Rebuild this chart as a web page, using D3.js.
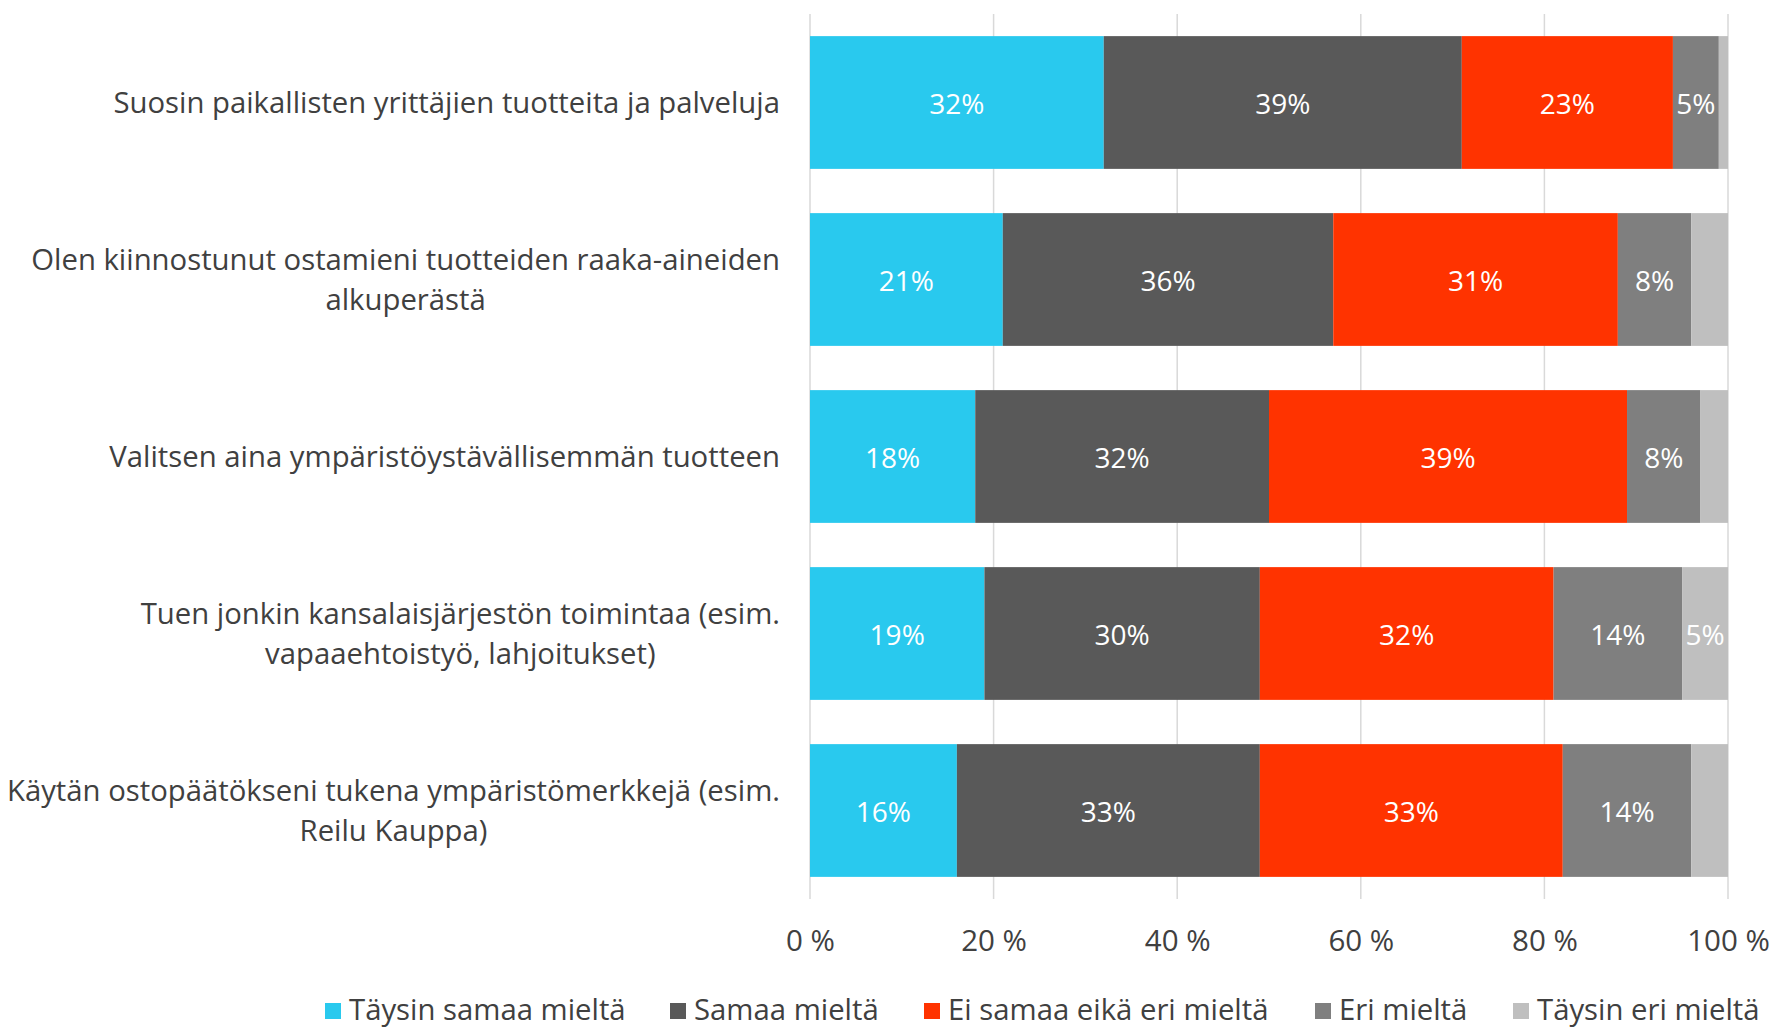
<!DOCTYPE html>
<html><head><meta charset="utf-8">
<script src="https://cdn.jsdelivr.net/npm/d3@7"></script>
<style>html,body{margin:0;padding:0;background:#fff;}svg{display:block;}</style>
</head><body>
<svg id="chart" width="1774" height="1028"></svg>
<script>
const categories = [
  "Suosin paikallisten yrittäjien tuotteita ja palveluja",
  "Olen kiinnostunut ostamieni tuotteiden raaka-aineiden\nalkuperästä",
  "Valitsen aina ympäristöystävällisemmän tuotteen",
  "Tuen jonkin kansalaisjärjestön toimintaa (esim.\nvapaaehtoistyö, lahjoitukset)",
  "Käytän ostopäätökseni tukena ympäristömerkkejä (esim.\nReilu Kauppa)"
];
const seriesNames = ["Täysin samaa mieltä","Samaa mieltä","Ei samaa eikä eri mieltä","Eri mieltä","Täysin eri mieltä"];
const taysinSamaa = [32,21,18,19,16];
const samaa = [39,36,32,30,33];
const eiSamaaEikaEri = [23,31,39,32,33];
const eri = [5,8,8,14,14];
const taysinEri = [1,4,3,5,4];
const tickValues = [0,20,40,60,80,100];
const colors = ["#29C9EE","#595959","#FF3300","#7F7F7F","#BFBFBF"];

const series = [taysinSamaa, samaa, eiSamaaEikaEri, eri, taysinEri];
const rows = categories.map((c,i)=>{const o={cat:c}; seriesNames.forEach((s,j)=>o[s]=series[j][i]); return o;});
const stacked = d3.stack().keys(seriesNames)(rows);

const svg = d3.select("#chart");
const font = "'Open Sans', sans-serif";
const x = d3.scaleLinear().domain([0,100]).range([810,1728]);
const y = d3.scaleBand().domain(categories).range([14,899]).paddingInner(0.25).paddingOuter(0.125);

// gridlines
svg.append("g").selectAll("line").data(tickValues).join("line")
  .attr("x1",d=>x(d)).attr("x2",d=>x(d)).attr("y1",14).attr("y2",899)
  .attr("stroke","#D9D9D9").attr("stroke-width",1.5);

// bars
const g = svg.append("g");
stacked.forEach((s,si)=>{
  g.append("g").selectAll("rect").data(s).join("rect")
    .attr("x",d=>x(d[0])).attr("width",d=>x(d[1])-x(d[0]))
    .attr("y",d=>y(d.data.cat)).attr("height",y.bandwidth())
    .attr("fill",colors[si]);
  g.append("g").selectAll("text").data(s.filter(d=>d[1]-d[0]>=5)).join("text")
    .attr("x",d=>(x(d[0])+x(d[1]))/2).attr("y",d=>y(d.data.cat)+y.bandwidth()/2)
    .attr("text-anchor","middle").attr("dominant-baseline","central")
    .attr("fill","#fff").style("font-family",font).style("font-size","28px")
    .text(d=>(d[1]-d[0])+"%");
});

// axis
const axis = d3.axisBottom(x).tickValues(tickValues).tickFormat(d=>d+" %").tickSize(0).tickPadding(0);
const ax = svg.append("g").attr("transform","translate(0,930)").call(axis);
ax.select(".domain").remove();
ax.selectAll("text").style("font-family",font).style("font-size","29.5px").attr("fill","#404040").attr("dy","0.32em").attr("y",12);

// category labels
const labelRight = 780;
categories.forEach(c=>{
  const lines = c.split("\n");
  const cy = y(c)+y.bandwidth()/2;
  const lh = 39.6;
  const t = svg.append("text").style("font-family",font).style("font-size","29.3px").attr("fill","#404040");
  const tspans = lines.map((l,i)=>t.append("tspan").text(l)
      .attr("y", cy + (i-(lines.length-1)/2)*lh).attr("dy","0.35em"));
  const maxW = d3.max(tspans, ts=>ts.node().getComputedTextLength());
  tspans.forEach(ts=>ts.attr("x", labelRight - maxW/2));
  t.attr("text-anchor","middle");
});

// legend
const legendX = [325,670,924,1315,1513];
const lg = svg.append("g");
seriesNames.forEach((n,i)=>{
  lg.append("rect").attr("x",legendX[i]).attr("y",1003).attr("width",16).attr("height",16).attr("fill",colors[i]);
  lg.append("text").attr("x",legendX[i]+24).attr("y",1010).attr("dy","0.35em")
    .style("font-family",font).style("font-size","29.3px").attr("fill","#404040").text(n);
});
</script>
</body></html>
